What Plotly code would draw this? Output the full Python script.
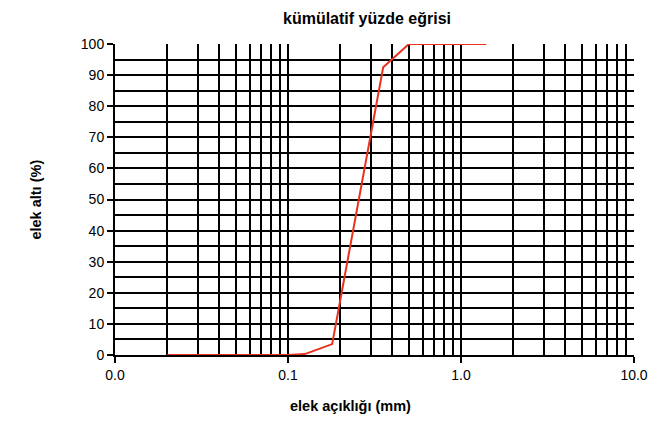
import plotly.graph_objects as go

# sieve opening (mm) and cumulative passing (%)
sieve_mm = [0.02, 0.1, 0.125, 0.18, 0.355, 0.5, 1.4]
passing_pct = [0.0, 0.0, 0.3, 3.5, 92.5, 100.0, 100.0]

x_tick_vals = [0.01, 0.1, 1.0, 10.0]
x_tick_text = ["0.0", "0.1", "1.0", "10.0"]
y_tick_vals = list(range(0, 101, 10))

minor_x = [m * d for d in (0.01, 0.1, 1.0) for m in range(2, 10)]

fig = go.Figure()
fig.add_trace(go.Scatter(
    x=sieve_mm, y=passing_pct, mode="lines",
    line=dict(color="#E8321E", width=2),
    showlegend=False,
))

font_family = "Liberation Sans, Arial, sans-serif"

# page body has an 8px default margin, so the figure is sized to fit the window
fig.update_layout(
    width=652, height=413,
    margin=dict(l=107, r=26, t=36, b=66),
    paper_bgcolor="white", plot_bgcolor="white",
    font=dict(family=font_family, size=14, color="black"),
    xaxis=dict(
        type="log", range=[-2, 1],
        tickvals=x_tick_vals, ticktext=x_tick_text,
        ticks="outside", ticklen=6, tickcolor="black", tickwidth=1.5,
        showgrid=True, gridcolor="black", gridwidth=2,
        minor=dict(tickvals=minor_x, showgrid=True, gridcolor="black", gridwidth=2, ticks=""),
        showline=True, linecolor="black", linewidth=2,
        zeroline=False,
        tickfont=dict(size=14),
    ),
    yaxis=dict(
        range=[0, 100],
        tickvals=y_tick_vals,
        ticks="outside", ticklen=6, tickcolor="black", tickwidth=1.5,
        showgrid=True, gridcolor="black", gridwidth=2,
        minor=dict(dtick=5, showgrid=True, gridcolor="black", gridwidth=2, ticks=""),
        showline=True, linecolor="black", linewidth=2,
        zeroline=False,
        tickfont=dict(size=14),
    ),
    annotations=[
        dict(text="<b>kümülatif yüzde eğrisi</b>", xref="paper", yref="paper",
             x=0.4855, y=1.082, xanchor="center", yanchor="middle",
             showarrow=False, font=dict(size=16)),
        dict(text="<b>elek açıklığı (mm)</b>", xref="paper", yref="paper",
             x=0.4547, y=-0.164, xanchor="center", yanchor="middle",
             showarrow=False, font=dict(size=14.5)),
        dict(text="<b>elek altı (%)</b>", xref="paper", yref="paper",
             x=-0.154, y=0.5, xanchor="center", yanchor="middle", textangle=-90,
             showarrow=False, font=dict(size=14.5)),
    ],
)

fig.write_html("out.html")
